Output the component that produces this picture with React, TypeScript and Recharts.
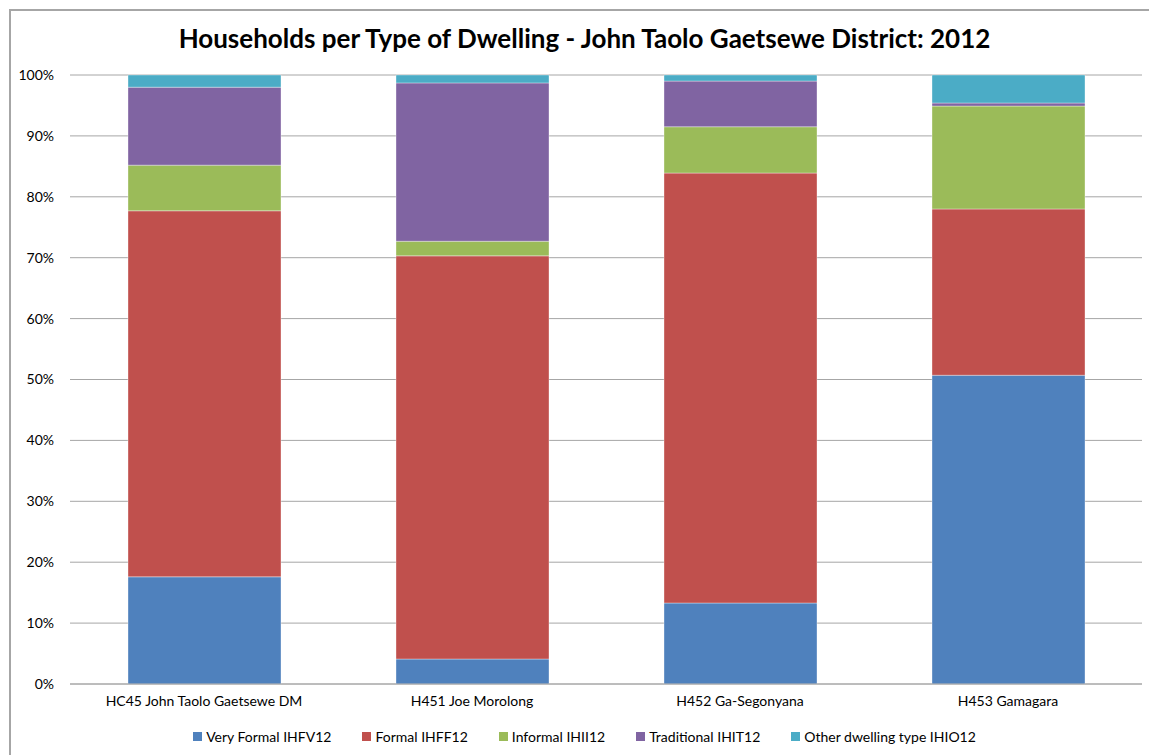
import { BarChart, Bar, XAxis, YAxis, CartesianGrid } from "recharts";

// percent of households per dwelling type
const municipalities = [
  "HC45 John Taolo Gaetsewe DM",
  "H451 Joe Morolong",
  "H452 Ga-Segonyana",
  "H453 Gamagara",
];
const veryFormal = [17.6, 4.1, 13.3, 50.7];
const formal = [60.1, 66.2, 70.6, 27.3];
const informal = [7.5, 2.4, 7.6, 16.9];
const traditional = [12.8, 26.0, 7.5, 0.5];
const other = [2.0, 1.3, 1.0, 4.6];
const yTicks = [0, 10, 20, 30, 40, 50, 60, 70, 80, 90, 100];

const series = [
  { key: "veryFormal", name: "Very Formal IHFV12", color: "#4F81BD" },
  { key: "formal", name: "Formal IHFF12", color: "#C0504D" },
  { key: "informal", name: "Informal IHII12", color: "#9BBB59" },
  { key: "traditional", name: "Traditional IHIT12", color: "#8064A2" },
  { key: "other", name: "Other dwelling type IHIO12", color: "#4BACC6" },
];

const data = municipalities.map((name, i) => ({
  name,
  veryFormal: veryFormal[i],
  formal: formal[i],
  informal: informal[i],
  traditional: traditional[i],
  other: other[i],
}));

const font = "Lato, 'Open Sans', sans-serif";

export default function App() {
  return (
    <div
      style={{
        position: "fixed",
        left: 0,
        top: 0,
        width: 1149,
        height: 755,
        overflow: "hidden",
        background: "#fff",
        fontFamily: font,
      }}
    >
      <div
        style={{
          position: "absolute",
          left: 9,
          top: 9,
          width: 1200,
          height: 800,
          borderLeft: "2px solid #a6a6a6",
          borderTop: "2px solid #a6a6a6",
        }}
      />
      <div
        style={{
          position: "absolute",
          left: 0,
          top: 22,
          width: 1169,
          textAlign: "center",
          fontSize: 26,
          fontWeight: 700,
          color: "#000",
        }}
      >
        Households per Type of Dwelling - John Taolo Gaetsewe District: 2012
      </div>
      <div style={{ position: "absolute", left: 0, top: 0 }}>
        <BarChart
          width={1149}
          height={755}
          data={data}
          margin={{ top: 75, right: 7, left: 0, bottom: 0 }}
        >
          <CartesianGrid vertical={false} stroke="#a6a6a6" strokeWidth={1} />
          <XAxis
            dataKey="name"
            tickLine={false}
            axisLine={{ stroke: "#a6a6a6" }}
            tickSize={0}
            tickMargin={12}
            height={71}
            tick={{ fontSize: 14, fill: "#000", fontFamily: font }}
            interval={0}
          />
          <YAxis
            width={70}
            domain={[0, 100]}
            ticks={yTicks}
            tickFormatter={(v) => `${v}%`}
            tickLine={false}
            axisLine={false}
            tickSize={0}
            tickMargin={16}
            tick={{ fontSize: 14, fill: "#000", fontFamily: font }}
          />
          {series.map((s) => (
            <Bar
              key={s.key}
              dataKey={s.key}
              name={s.name}
              stackId="a"
              fill={s.color}
              barSize={153}
              stroke="rgba(255,255,255,0.35)"
              strokeWidth={1}
              isAnimationActive={false}
            />
          ))}
        </BarChart>
      </div>
      <div
        style={{
          position: "absolute",
          left: 0,
          top: 728,
          width: 1169,
          display: "flex",
          justifyContent: "center",
          gap: 31,
          fontSize: 14,
          color: "#000",
        }}
      >
        {series.map((s) => (
          <div key={s.key} style={{ display: "flex", alignItems: "center", gap: 4 }}>
            <span style={{ width: 9, height: 9, background: s.color, display: "inline-block" }} />
            <span>{s.name}</span>
          </div>
        ))}
      </div>
    </div>
  );
}
